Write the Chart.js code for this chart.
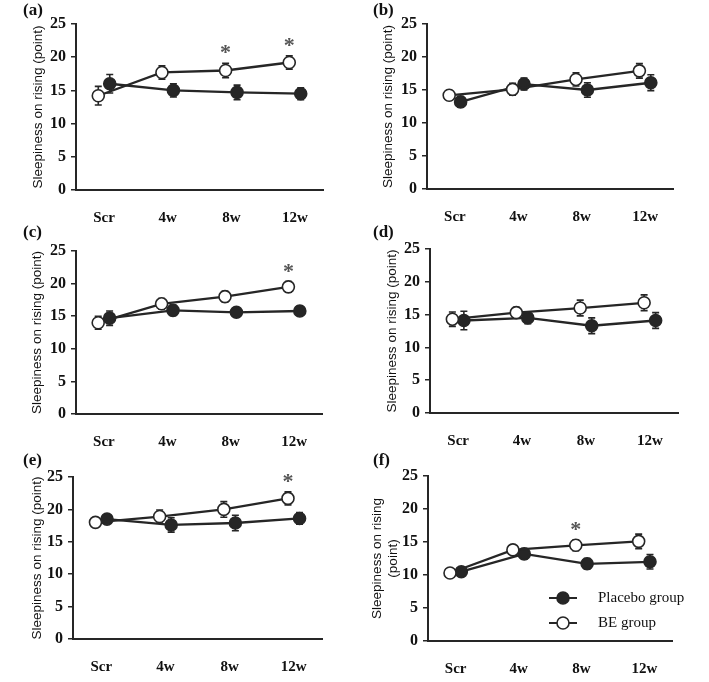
<!DOCTYPE html>
<html>
<head>
<meta charset="utf-8">
<script src="https://cdn.jsdelivr.net/npm/chart.js@4/dist/chart.umd.min.js"></script>
<style>
  html, body { margin: 0; padding: 0; background: #fff; }
  #wrap { position: relative; width: 709px; height: 682px; overflow: hidden; }
  #wrap canvas { position: absolute; }
</style>
</head>
<body>
<div id="wrap"></div>
<script>
'use strict';

/* ---------- data ---------- */
const CATS = ['Scr', '4w', '8w', '12w'];
const Y_TICKS = [0, 5, 10, 15, 20, 25];

// (a)
const beA = [14.2, 17.7, 18.0, 19.2];
const beErrA = [1.4, 1.0, 1.1, 1.0];
const plA = [16.0, 15.0, 14.7, 14.5];
const plErrA = [1.4, 1.0, 1.1, 0.9];
const starsA = [2, 3];
// (b)
const beB = [14.2, 15.1, 16.6, 17.9];
const beErrB = [0.7, 0.9, 1.0, 1.1];
const plB = [13.2, 15.9, 15.0, 16.1];
const plErrB = [0.8, 0.9, 1.1, 1.2];
const starsB = [];
// (c)
const beC = [14.0, 16.9, 18.0, 19.5];
const beErrC = [1.0, 0.8, 0.8, 0.8];
const plC = [14.7, 15.9, 15.6, 15.8];
const plErrC = [1.1, 0.8, 0.7, 0.7];
const starsC = [3];
// (d)
const beD = [14.3, 15.3, 16.0, 16.8];
const beErrD = [1.1, 0.8, 1.2, 1.2];
const plD = [14.1, 14.5, 13.3, 14.1];
const plErrD = [1.4, 0.9, 1.2, 1.2];
const starsD = [];
// (e)
const beE = [18.0, 18.9, 20.0, 21.7];
const beErrE = [0.3, 1.0, 1.2, 1.0];
const plE = [18.5, 17.6, 17.9, 18.6];
const plErrE = [0.5, 1.1, 1.2, 0.9];
const starsE = [3];
// (f)
const beF = [10.3, 13.8, 14.5, 15.1];
const beErrF = [0.3, 0.6, 0.8, 1.1];
const plF = [10.5, 13.2, 11.7, 12.0];
const plErrF = [0.4, 0.8, 0.8, 1.1];
const starsF = [2];

const Y_TITLE = 'Sleepiness on rising (point)';
const Y_TITLE_F = ['Sleepiness on rising', '(point)'];
const LEGEND_LABELS = ['Placebo group', 'BE group'];

/* ---------- style ---------- */
const INK = '#262626';
const STAR_INK = '#555';
const SERIF = "'Liberation Serif', 'Times New Roman', serif";
const SANS = "'Liberation Sans', Arial, sans-serif";
const OFFSET = 0.09;       // horizontal dodge of the two groups
const CAP = 3.5;
const RADIUS = 6;

/* ---------- panel layout (page pixels) ---------- */
const PANELS = [
  { tag: '(a)', ox: 0,   oy: 0,   w: 345, h: 222, L: 76,  T: 24,  R: 323, B: 190, tx: 38,  be: beA, beErr: beErrA, pl: plA, plErr: plErrA, stars: starsA },
  { tag: '(b)', ox: 350, oy: 0,   w: 359, h: 222, L: 427, T: 24,  R: 673, B: 189, tx: 388, be: beB, beErr: beErrB, pl: plB, plErr: plErrB, stars: starsB },
  { tag: '(c)', ox: 0,   oy: 222, w: 345, h: 228, L: 76,  T: 251, R: 322, B: 414, tx: 37,  be: beC, beErr: beErrC, pl: plC, plErr: plErrC, stars: starsC },
  { tag: '(d)', ox: 350, oy: 222, w: 359, h: 228, L: 430, T: 249, R: 678, B: 413, tx: 392, be: beD, beErr: beErrD, pl: plD, plErr: plErrD, stars: starsD },
  { tag: '(e)', ox: 0,   oy: 450, w: 345, h: 232, L: 73,  T: 477, R: 322, B: 639, tx: 37,  be: beE, beErr: beErrE, pl: plE, plErr: plErrE, stars: starsE },
  { tag: '(f)', ox: 350, oy: 450, w: 359, h: 232, L: 428, T: 476, R: 672, B: 641, tx: 377, be: beF, beErr: beErrF, pl: plF, plErr: plErrF, stars: starsF, legend: true },
];

/* ---------- plugins ---------- */
const errorBars = {
  id: 'errorBars',
  beforeDatasetsDraw(chart) {
    const { ctx, scales: { x, y } } = chart;
    ctx.save();
    ctx.strokeStyle = INK;
    ctx.lineWidth = 1.6;
    chart.data.datasets.forEach(ds => {
      ds.data.forEach((pt, i) => {
        const e = ds.err[i];
        const px = x.getPixelForValue(pt.x);
        const y1 = y.getPixelForValue(pt.y + e);
        const y2 = y.getPixelForValue(pt.y - e);
        ctx.beginPath();
        ctx.moveTo(px, y1); ctx.lineTo(px, y2);
        ctx.moveTo(px - CAP, y1); ctx.lineTo(px + CAP, y1);
        ctx.moveTo(px - CAP, y2); ctx.lineTo(px + CAP, y2);
        ctx.stroke();
      });
    });
    ctx.restore();
  }
};

const annotations = {
  id: 'annotations',
  afterDraw(chart, args, opts) {
    const p = opts.panel;
    const { ctx, scales: { x, y }, chartArea } = chart;
    ctx.save();
    // panel tag
    ctx.fillStyle = '#111';
    ctx.font = 'bold 17px ' + SERIF;
    ctx.textAlign = 'left';
    ctx.textBaseline = 'middle';
    ctx.fillText(p.tag, 23, 11);
    // significance stars above BE points
    ctx.fillStyle = STAR_INK;
    ctx.font = 'bold 22px ' + SERIF;
    ctx.textAlign = 'center';
    ctx.textBaseline = 'alphabetic';
    p.stars.forEach(i => {
      const px = x.getPixelForValue(i - OFFSET);
      const top = y.getPixelForValue(p.be[i] + p.beErr[i]);
      ctx.fillText('*', px, top - 14 + 10);
    });
    // legend
    if (p.legend) {
      const lx = chartArea.left + 135;
      const rows = [
        { label: LEGEND_LABELS[0], fill: INK, y: chartArea.bottom - 43 },
        { label: LEGEND_LABELS[1], fill: '#fff', y: chartArea.bottom - 18 },
      ];
      rows.forEach(r => {
        ctx.strokeStyle = INK;
        ctx.lineWidth = 2;
        ctx.beginPath();
        ctx.moveTo(lx - 14, r.y); ctx.lineTo(lx + 14, r.y);
        ctx.stroke();
        ctx.beginPath();
        ctx.arc(lx, r.y, RADIUS, 0, Math.PI * 2);
        ctx.fillStyle = r.fill;
        ctx.fill();
        ctx.lineWidth = 1.6;
        ctx.stroke();
        ctx.fillStyle = '#111';
        ctx.font = '15px ' + SERIF;
        ctx.textAlign = 'left';
        ctx.textBaseline = 'middle';
        ctx.fillText(r.label, lx + 35, r.y);
      });
    }
    ctx.restore();
  }
};

/* ---------- build ---------- */
function series(values, errs, dx, fill) {
  return {
    data: values.map((v, i) => ({ x: i + dx, y: v })),
    err: errs,
    borderColor: INK,
    borderWidth: 2.3,
    pointRadius: RADIUS,
    pointBorderWidth: 1.6,
    pointBackgroundColor: fill,
    pointBorderColor: INK,
    tension: 0,
  };
}

function makePanel(p) {
  const canvas = document.createElement('canvas');
  canvas.width = p.w;
  canvas.height = p.h;
  canvas.style.left = p.ox + 'px';
  canvas.style.top = p.oy + 'px';
  document.getElementById('wrap').appendChild(canvas);

  const lineH = 13.5 * 1.2;
  new Chart(canvas, {
    type: 'line',
    data: {
      datasets: [
        series(p.be, p.beErr, -OFFSET, '#fff'),
        series(p.pl, p.plErr, OFFSET, INK),
      ],
    },
    plugins: [errorBars, annotations],
    options: {
      responsive: false,
      animation: false,
      devicePixelRatio: 1,
      events: [],
      layout: { padding: { left: 0, top: p.T - p.oy, right: p.ox + p.w - p.R, bottom: 0 } },
      plugins: {
        legend: { display: false },
        tooltip: { enabled: false },
        annotations: { panel: p },
      },
      scales: {
        x: {
          type: 'linear',
          min: -0.44,
          max: 3.44,
          afterBuildTicks: s => { s.ticks = CATS.map((_, i) => ({ value: i })); },
          afterFit: s => { s.height = p.oy + p.h - p.B; },
          ticks: {
            callback: v => CATS[v],
            color: '#111',
            font: { family: SERIF, size: 15, weight: 'bold' },
            padding: 11,
            maxRotation: 0,
          },
          grid: { display: false },
          border: { display: true, color: INK, width: 2 },
        },
        y: {
          min: 0,
          max: 25,
          afterBuildTicks: s => { s.ticks = Y_TICKS.map(v => ({ value: v })); },
          afterFit: s => { s.width = p.L - p.ox; },
          ticks: {
            color: '#111',
            font: { family: SERIF, size: 16, weight: 'bold' },
            padding: 5,
          },
          grid: { drawOnChartArea: false, drawTicks: true, tickLength: 5, color: INK, lineWidth: 1.5 },
          border: { display: true, color: INK, width: 2 },
          title: {
            display: true,
            text: p.legend ? Y_TITLE_F : Y_TITLE,
            color: '#111',
            font: { family: SANS, size: 13.5 },
            padding: { top: p.tx - p.ox - lineH / 2, bottom: 0 },
          },
        },
      },
    },
  });
}

PANELS.forEach(makePanel);
</script>
</body>
</html>
